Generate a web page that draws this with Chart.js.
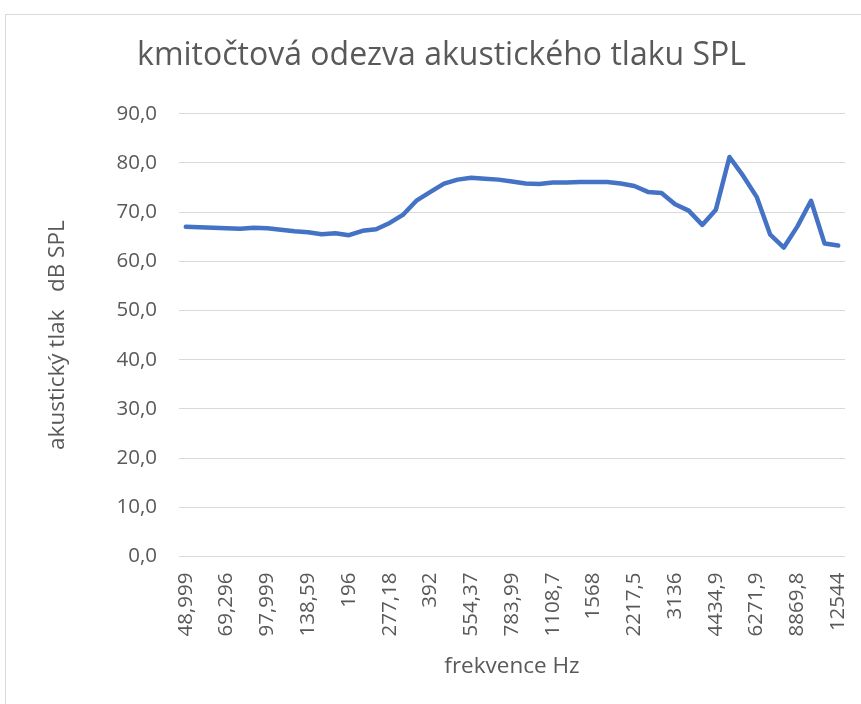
<!DOCTYPE html>
<html>
<head>
<meta charset="utf-8">
<script src="https://cdn.jsdelivr.net/npm/chart.js@4"></script>
<style>
html,body{margin:0;padding:0;overflow:hidden;background:#fff;width:861px;height:704px;}
#frame{position:absolute;left:5px;top:14px;width:900px;height:720px;border:1px solid #d9d9d9;box-sizing:border-box;}
#c{position:absolute;left:0;top:0;}
</style>
</head>
<body>
<div id="frame"></div>
<canvas id="c" width="883" height="704" style="width:883px;height:704px"></canvas>
<script>
const titleText = "kmitočtová odezva akustického tlaku SPL";
const xAxisTitle = "frekvence Hz";
const yAxisTitle = "akustický tlak   dB SPL";
const categories = ["48,999","55","61,735","69,296","77,782","87,307","97,999","110","123,47","138,59","155,56","174,61","196","220","246,94","277,18","311,13","349,23","392","440","493,88","554,37","622,25","698,46","783,99","880","987,77","1108,7","1244,5","1396,9","1568","1760","1975,5","2217,5","2489","2793,8","3136","3520","3951,1","4434,9","4978","5587,7","6271,9","7040","7902,1","8869,8","9956,1","11175","12544"];
const splValues = [67.0,66.9,66.8,66.7,66.6,66.8,66.7,66.4,66.1,65.9,65.5,65.7,65.3,66.2,66.5,67.8,69.5,72.4,74.1,75.8,76.6,77.0,76.8,76.6,76.2,75.8,75.7,76.0,76.0,76.1,76.1,76.1,75.8,75.3,74.1,73.9,71.6,70.3,67.4,70.5,81.2,77.4,73.1,65.4,62.8,67.1,72.3,63.6,63.2];
const yMin = 0, yMax = 90, yStep = 10;

const FONT = "'Open Sans', sans-serif";
const GRAY = "#595959";

new Chart(document.getElementById('c'), {
  type: 'line',
  data: {
    labels: categories,
    datasets: [{
      data: splValues,
      borderColor: '#4472C4',
      borderWidth: 4.5,
      borderJoinStyle: 'round',
      borderCapStyle: 'round',
      pointRadius: 0,
      tension: 0,
      fill: false
    }]
  },
  options: {
    responsive: false,
    animation: false,
    layout: { padding: { left: 38, right: 38, top: 0, bottom: 0 } },
    plugins: {
      legend: { display: false },
      tooltip: { enabled: false },
      title: {
        display: true,
        text: titleText,
        color: GRAY,
        font: { family: FONT, size: 32, weight: 'normal' },
        padding: { top: 37, bottom: 38.3 }
      }
    },
    scales: {
      x: {
        offset: true,
        grid: { display: false, drawTicks: false },
        border: { display: false },
        ticks: {
          autoSkip: false,
          minRotation: 90,
          maxRotation: 90,
          padding: 16,
          color: GRAY,
          font: { family: FONT, size: 20.5 },
          callback: function(v, i) { return i % 3 === 0 ? categories[i] : ''; }
        },
        title: {
          display: true,
          text: xAxisTitle,
          color: GRAY,
          font: { family: FONT, size: 22.5 },
          padding: { top: 0, bottom: 23.5 }
        },
        afterFit: function(s) { s.height = 147.5; }
      },
      y: {
        min: yMin,
        max: yMax,
        grid: { color: '#d9d9d9', lineWidth: 1, drawTicks: false },
        border: { display: false },
        ticks: {
          stepSize: yStep,
          padding: 22,
          color: GRAY,
          font: { family: FONT, size: 20.5 },
          callback: function(v) { return v.toFixed(1).replace('.', ','); }
        },
        title: {
          display: true,
          text: yAxisTitle,
          color: GRAY,
          font: { family: FONT, size: 22.5 },
          padding: { top: 6.5, bottom: 0 }
        },
        afterFit: function(s) { s.width = 141; }
      }
    }
  }
});
</script>
</body>
</html>
